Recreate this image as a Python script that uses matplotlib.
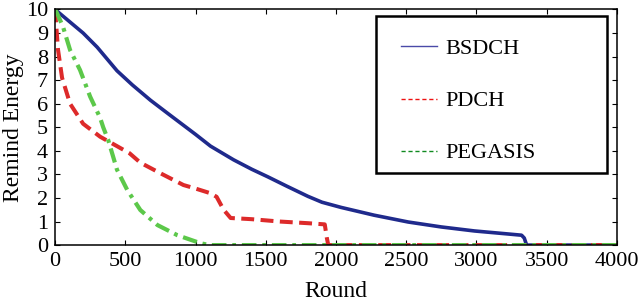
import matplotlib
matplotlib.use("Agg")
import matplotlib.pyplot as plt
from matplotlib.lines import Line2D
from matplotlib.patches import Rectangle

# valores
bsdch_round = [0, 100, 200, 300, 441, 550, 679, 800, 900, 1000, 1107, 1271, 1400, 1514,
               1650, 1800, 1900, 2036, 2271, 2514, 2750, 2986, 3229, 3321, 3340, 3357, 4000]
bsdch_energy = [10.0, 9.5, 9.0, 8.4, 7.4, 6.8, 6.15, 5.6, 5.15, 4.7, 4.2, 3.62, 3.22, 2.9,
                2.5, 2.07, 1.82, 1.6, 1.27, 0.98, 0.77, 0.6, 0.47, 0.42, 0.3, 0.0, 0.0]

pdch_round = [0, 10, 21, 50, 107, 200, 321, 441, 530, 607, 750, 914, 1000, 1107, 1150,
              1200, 1250, 1400, 1600, 1800, 1920, 1935, 1945, 4000]
pdch_energy = [10.0, 9.2, 8.3, 7.1, 6.0, 5.15, 4.6, 4.2, 3.9, 3.5, 3.05, 2.55, 2.4, 2.2, 2.05,
               1.5, 1.15, 1.1, 1.0, 0.93, 0.88, 0.3, 0.0, 0.0]

pegasis_round = [0, 14, 57, 107, 178, 250, 321, 343, 379, 441, 514, 607, 729, 871, 1036, 1100, 4000]
pegasis_energy = [10.0, 9.85, 9.26, 8.28, 7.43, 6.3, 5.4, 5.0, 4.45, 3.2, 2.34, 1.49, 0.85,
                  0.42, 0.08, 0.0, 0.0]

labels = ["BSDCH", "PDCH", "PEGASIS"]

plt.rcParams['font.family'] = ['Liberation Serif', 'DejaVu Serif']

fig = plt.figure(figsize=(6.4, 3.06), dpi=100)
ax = fig.add_axes([0.086, 0.199, 0.878, 0.770])

ax.plot(bsdch_round, bsdch_energy, color='#1f2a8c', lw=2.6, solid_capstyle='round')
ax.plot(pdch_round, pdch_energy, color='#dd2a2a', lw=2.9, ls=(0, (3.2, 1.6)))
ax.plot(pegasis_round, pegasis_energy, color='#5cc84a', lw=3.0, ls=(0, (3.5, 1.4, 0.9, 1.4)))

ax.set_xlim(0, 4000)
ax.set_ylim(0, 10)
ax.set_xticks(range(0, 4001, 500))
ax.set_yticks(range(0, 11))
ax.tick_params(direction='in', top=True, right=True, length=3.5, width=0.8,
               labelsize=16, pad=5)
for s in ax.spines.values():
    s.set_linewidth(1.1)

ax.set_xlabel('Round', fontsize=17, labelpad=7)
ax.set_ylabel('Remind Energy', fontsize=17, labelpad=1)

# caixa da legenda
box = Rectangle((0.571, 0.306), 0.411, 0.666, transform=ax.transAxes, facecolor='white',
                edgecolor='black', lw=1.8, zorder=4)
ax.add_patch(box)

handles = [
    Line2D([], [], color='#4a4aa8', lw=1.0),
    Line2D([], [], color='#ee1111', lw=1.0, ls=(0, (3, 2))),
    Line2D([], [], color='#108a20', lw=1.0, ls=(0, (3, 2))),
]
leg = ax.legend(handles, labels, loc='upper left', bbox_to_anchor=(0.6157, 0.876),
                fontsize=16, frameon=False, borderpad=0, labelspacing=1.42,
                handlelength=1.6, handletextpad=0.4, borderaxespad=0)
leg.set_zorder(5)

fig.savefig('out.png', dpi=100)
